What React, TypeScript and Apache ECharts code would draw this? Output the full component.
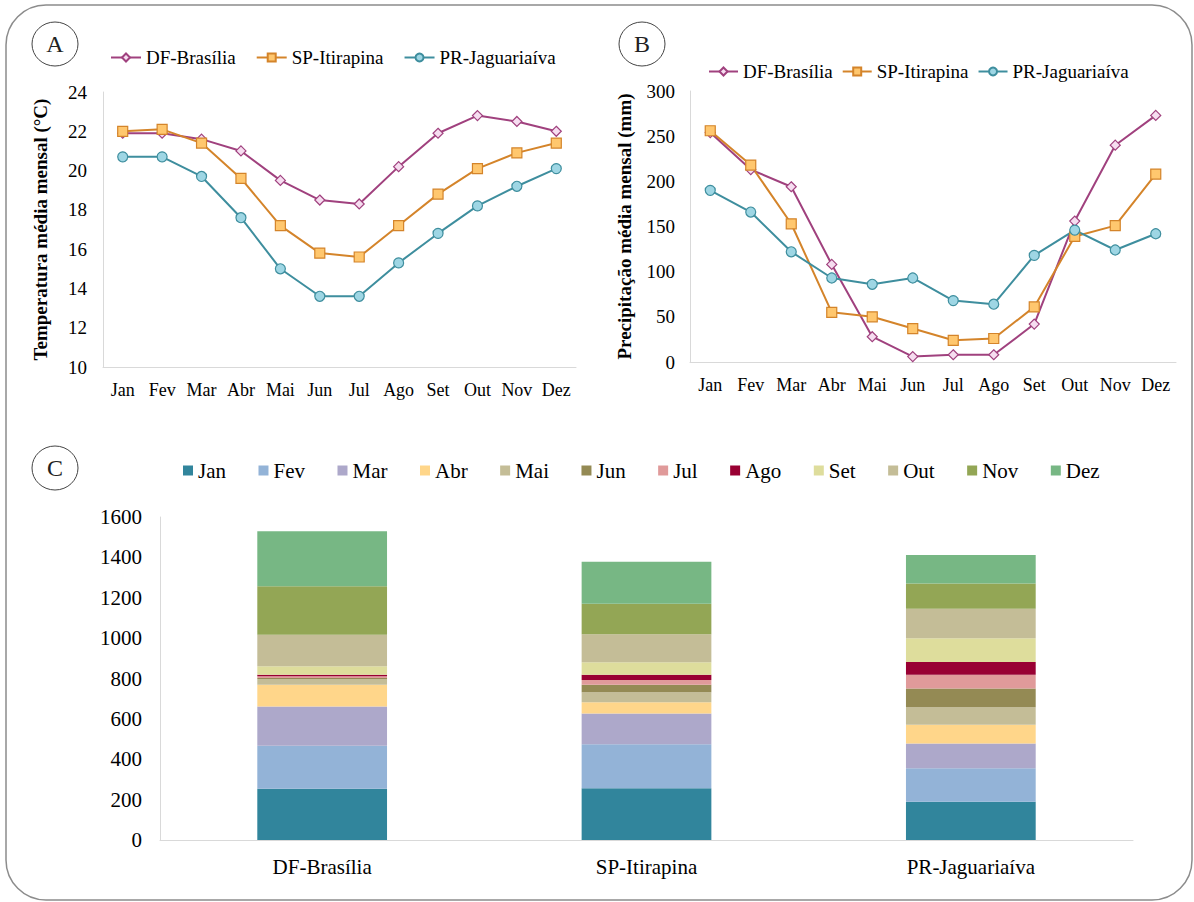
import { useEffect, useRef } from "react";
import * as echarts from "echarts";

// Month labels and stations
const months = ["Jan", "Fev", "Mar", "Abr", "Mai", "Jun", "Jul", "Ago", "Set", "Out", "Nov", "Dez"];
const stations = ["DF-Brasília", "SP-Itirapina", "PR-Jaguariaíva"];

// Mean monthly temperature (°C)
const tempDF = [21.9, 21.9, 21.6, 21.0, 19.5, 18.5, 18.3, 20.2, 21.9, 22.8, 22.5, 22.0];
const tempSP = [22.0, 22.1, 21.4, 19.6, 17.2, 15.8, 15.6, 17.2, 18.8, 20.1, 20.9, 21.4];
const tempPR = [20.7, 20.7, 19.7, 17.6, 15.0, 13.6, 13.6, 15.3, 16.8, 18.2, 19.2, 20.1];

// Mean monthly precipitation (mm)
const precDF = [254, 213, 194, 108, 28, 6, 8, 8, 42, 156, 240, 273];
const precSP = [256, 218, 153, 55, 50, 37, 24, 26, 61, 139, 151, 208];
const precPR = [190, 166, 122, 93, 86, 93, 68, 64, 118, 146, 124, 142];

// Axis ranges
const tempAxis = { min: 10, max: 24, interval: 2 };
const precAxis = { min: 0, max: 300, interval: 50 };
const totalAxis = { min: 0, max: 1600, interval: 200 };

const FONT = "Liberation Serif";
const AXIS_GRAY = "#D9D9D9";

const lineStyles = [
  { color: "#A0417E", fill: "#F6DDF0", symbol: "diamond", size: 10 },
  { color: "#D4842A", fill: "#FFC76E", symbol: "rect", size: 10 },
  { color: "#3E8E9E", fill: "#9ED6E4", symbol: "circle", size: 10 },
];

const monthColors = [
  "#31859C", "#93B3D7", "#ADA8CA", "#FFD68A", "#C4BD97", "#948A54",
  "#E09A9A", "#990033", "#DEDD9C", "#C4BD97", "#93A655", "#77B784",
];

function lineSeries(name: string, data: number[], idx: number, axisIdx: number) {
  const s = lineStyles[idx];
  return {
    type: "line",
    name,
    xAxisIndex: axisIdx,
    yAxisIndex: axisIdx,
    data,
    symbol: s.symbol,
    symbolSize: s.size,
    showAllSymbol: true,
    lineStyle: { color: s.color, width: 2 },
    itemStyle: { color: s.fill, borderColor: s.color, borderWidth: 1.2 },
    emphasis: { disabled: true },
  };
}

function valueAxis(gridIndex: number, range: { min: number; max: number; interval: number }, name: string, gap: number, margin: number, size: number) {
  return {
    type: "value",
    gridIndex,
    min: range.min,
    max: range.max,
    interval: range.interval,
    name,
    nameLocation: "middle",
    nameGap: gap,
    nameTextStyle: { fontFamily: FONT, fontSize: 19, fontWeight: "bold", color: "#000" },
    axisLine: { show: true, lineStyle: { color: AXIS_GRAY, width: 1 } },
    axisTick: { show: false },
    splitLine: { show: false },
    axisLabel: {
      fontFamily: FONT,
      fontSize: size,
      color: "#000",
      margin,
      formatter: (v: number) => String(v),
    },
  };
}

function catAxis(gridIndex: number, data: string[], margin: number, size: number) {
  return {
    type: "category",
    gridIndex,
    data,
    boundaryGap: true,
    axisLine: { show: true, lineStyle: { color: AXIS_GRAY, width: 1 } },
    axisTick: { show: false },
    axisLabel: { fontFamily: FONT, fontSize: size, color: "#000", margin, interval: 0 },
  };
}

function panelMark(letter: string, cx: number, cy: number) {
  return {
    type: "group",
    children: [
      {
        type: "ellipse",
        shape: { cx, cy, rx: 23, ry: 22 },
        style: { fill: "#fff", stroke: "#444", lineWidth: 1 },
      },
      {
        type: "text",
        x: cx,
        y: cy,
        style: {
          text: letter,
          fontFamily: FONT,
          fontSize: 24,
          fill: "#222",
          align: "center",
          verticalAlign: "middle",
        },
      },
    ],
  };
}

export default function App() {
  const ref = useRef<HTMLDivElement>(null);

  useEffect(() => {
    if (!ref.current) return;
    const chart = echarts.init(ref.current, undefined, { renderer: "svg" });

    const precByStation = [precDF, precSP, precPR];
    const barSeries = months.map((m, i) => ({
      type: "bar",
      name: m,
      xAxisIndex: 2,
      yAxisIndex: 2,
      stack: "total",
      barWidth: "40%",
      data: precByStation.map((arr) => arr[i]),
      itemStyle: { color: monthColors[i] },
      emphasis: { disabled: true },
    }));

    chart.setOption({
      animation: false,
      backgroundColor: "#fff",
      textStyle: { fontFamily: FONT, color: "#000" },
      grid: [
        { left: 103, right: 618, top: 92, bottom: 535 },
        { left: 690, right: 18, top: 91, bottom: 540 },
        { left: 160, right: 61, top: 517, bottom: 62 },
      ],
      legend: [
        {
          data: stations,
          left: 105,
          top: 43,
          itemWidth: 30,
          itemHeight: 10,
          itemGap: 20,
          textStyle: { fontFamily: FONT, fontSize: 19, color: "#000" },
          selectedMode: false,
        },
        {
          data: stations,
          left: 703,
          top: 57,
          itemWidth: 29,
          itemHeight: 10,
          itemGap: 9,
          textStyle: { fontFamily: FONT, fontSize: 19, color: "#000" },
          selectedMode: false,
        },
        {
          data: months,
          left: 178,
          top: 455,
          itemWidth: 10,
          itemHeight: 10,
          itemGap: 32.5,
          icon: "rect",
          textStyle: { fontFamily: FONT, fontSize: 21, color: "#000" },
          selectedMode: false,
        },
      ],
      xAxis: [catAxis(0, months, 14, 18), catAxis(1, months, 14, 18), catAxis(2, stations, 16, 21)],
      yAxis: [
        valueAxis(0, tempAxis, "Temperatura média mensal (°C)", 53, 16, 19),
        valueAxis(1, precAxis, "Precipitação média mensal (mm)", 56, 15, 19),
        valueAxis(2, totalAxis, "", 0, 18, 21),
      ],
      series: [
        lineSeries(stations[0], tempDF, 0, 0),
        lineSeries(stations[1], tempSP, 1, 0),
        lineSeries(stations[2], tempPR, 2, 0),
        lineSeries(stations[0], precDF, 0, 1),
        lineSeries(stations[1], precSP, 1, 1),
        lineSeries(stations[2], precPR, 2, 1),
        ...barSeries,
      ],
      graphic: [
        {
          type: "rect",
          shape: { x: 6, y: 5, width: 1186, height: 895, r: 40 },
          style: { fill: "none", stroke: "#8C8C8C", lineWidth: 1.5 },
          silent: true,
        },
        panelMark("A", 55, 44),
        panelMark("B", 642, 44),
        panelMark("C", 55, 468),
      ],
    });

    return () => chart.dispose();
  }, []);

  return (
    <div
      ref={ref}
      style={{ position: "absolute", left: 0, top: 0, width: 1194, height: 902 }}
    />
  );
}
